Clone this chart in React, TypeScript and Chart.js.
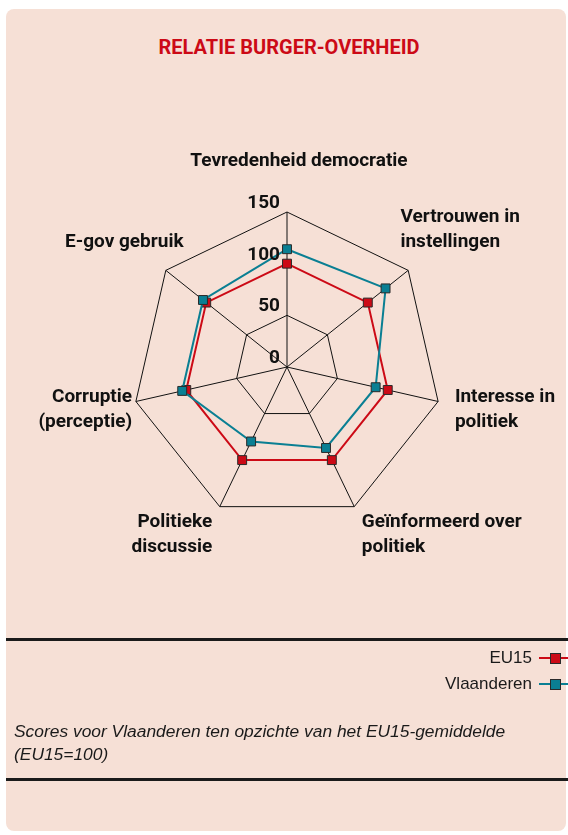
import React, { useEffect, useRef } from 'react';
import { Chart, registerables } from 'chart.js';

Chart.register(...registerables);

// ---------- data ----------
const categories: string[][] = [
  ['Tevredenheid democratie'],
  ['Vertrouwen in', 'instellingen'],
  ['Interesse in', 'politiek'],
  ['Geïnformeerd over', 'politiek'],
  ['Politieke', 'discussie'],
  ['Corruptie', '(perceptie)'],
  ['E-gov gebruik'],
];
const eu15Values = [100, 100, 100, 100, 100, 100, 100];
const vlaanderenValues = [114, 122, 88, 87, 80, 104, 104];
const seriesNames = ['EU15', 'Vlaanderen'];
const seriesColors = ['#CC0A16', '#0A7F93'];
const tickMin = 0;
const tickMax = 150;
const tickStep = 50;
const hiddenRing = 100;
const titleText = 'RELATIE BURGER-OVERHEID';
const noteLines = ['Scores voor Vlaanderen ten opzichte van het EU15-gemiddelde', '(EU15=100)'];

const LABEL_FONT = 'bold 19px Roboto, "Liberation Sans", Arial, sans-serif';

const labelPlugin = {
  id: 'radarLabels',
  afterDraw(chart: any) {
    const scale = chart.scales.r;
    const ctx = chart.ctx;
    ctx.save();
    ctx.font = LABEL_FONT;
    ctx.fillStyle = '#111';
    // tick labels, left of the vertical spoke
    ctx.textAlign = 'right';
    ctx.textBaseline = 'alphabetic';
    scale.ticks.forEach((t: any) => {
      const p = scale.getPointPositionForValue(0, t.value);
      ctx.fillText(String(t.value), scale.xCenter - 7, p.y - 4);
    });
    // point labels
    const R = scale.drawingArea;
    const lh = 25;
    const labels = chart.data.labels as string[][];
    labels.forEach((lines, i) => {
      const p = scale.getPointPosition(i, R + 8);
      const cos = Math.cos(p.angle);
      const sin = Math.sin(p.angle);
      const blockH = lines.length * lh;
      let x = p.x;
      let top: number;
      let align: CanvasTextAlign;
      if (Math.abs(cos) < 0.1) {
        align = 'center';
        top = p.y - 30 - blockH;
        x += 12;
      } else {
        align = cos > 0 ? 'left' : 'right';
        if (sin < -0.5) {
          top = p.y - 11 - blockH;
          x += cos > 0 ? -14 : 24;
        } else if (sin > 0.5) {
          top = p.y - 4;
          x += cos > 0 ? 4 : -4;
        } else {
          top = p.y + 6 - blockH / 2;
          x += cos > 0 ? 9 : 4;
        }
      }
      ctx.textAlign = align;
      ctx.textBaseline = 'middle';
      lines.forEach((l, j) => ctx.fillText(l, x, top + j * lh + lh / 2));
    });
    ctx.restore();
  },
};

function RadarChart() {
  const ref = useRef<HTMLCanvasElement | null>(null);
  useEffect(() => {
    if (!ref.current) return;
    const mk = (name: string, data: number[], color: string, order: number) => ({
      label: name,
      data,
      borderColor: color,
      backgroundColor: color,
      borderWidth: 2,
      fill: false,
      pointStyle: 'rect',
      pointRadius: 6.3,
      pointBackgroundColor: color,
      pointBorderColor: '#2a2a2a',
      pointBorderWidth: 1,
      order,
    });
    const chart = new Chart(ref.current, {
      type: 'radar',
      data: {
        labels: categories,
        datasets: [
          mk(seriesNames[0], eu15Values, seriesColors[0], 2),
          mk(seriesNames[1], vlaanderenValues, seriesColors[1], 1),
        ],
      },
      options: {
        responsive: false,
        animation: false,
        layout: { padding: { left: 132, right: 126, top: 212, bottom: 313 } },
        plugins: {
          legend: { display: false },
          tooltip: { enabled: false },
          title: { display: false },
        },
        elements: { line: { tension: 0 } },
        scales: {
          r: {
            min: tickMin,
            max: tickMax,
            ticks: { stepSize: tickStep, display: false },
            pointLabels: { display: false },
            grid: {
              color: (c: any) => (c.tick && c.tick.value === hiddenRing ? 'rgba(0,0,0,0)' : '#111'),
              lineWidth: 1,
            },
            angleLines: { color: '#111', lineWidth: 1 },
          },
        },
      } as any,
      plugins: [labelPlugin],
    });
    return () => chart.destroy();
  }, []);
  return (
    <canvas
      ref={ref}
      width={568}
      height={835}
      style={{ position: 'absolute', left: 0, top: 0, width: 568, height: 835 }}
    />
  );
}

function LegendRow({ name, color, top }: { name: string; color: string; top: number }) {
  return (
    <div
      style={{
        position: 'absolute',
        top,
        left: 0,
        width: 568,
        height: 22,
        display: 'flex',
        justifyContent: 'flex-end',
        alignItems: 'center',
      }}
    >
      <span style={{ font: '17px "Liberation Sans", Arial, sans-serif', color: '#1a1a1a', marginRight: 7 }}>{name}</span>
      <span style={{ position: 'relative', width: 29, height: 22, display: 'inline-block' }}>
        <span style={{ position: 'absolute', left: 0, right: 0, top: 10, height: 1.5, background: color }} />
        <span
          style={{
            position: 'absolute',
            left: 11,
            top: 6,
            width: 9,
            height: 9,
            background: color,
            border: '1px solid #2a2a2a',
          }}
        />
      </span>
    </div>
  );
}

export default function App() {
  return (
    <div style={{ position: 'absolute', left: 0, top: 0, width: 568, height: 835, overflow: 'hidden' }}>
      <div
        style={{
          position: 'absolute',
          left: 6,
          top: 9,
          width: 560,
          height: 822,
          background: '#F6E0D6',
          borderRadius: 8,
        }}
      />
      <div
        style={{
          position: 'absolute',
          left: 6,
          top: 34,
          width: 566,
          textAlign: 'center',
          font: 'bold 20px Roboto, "Liberation Sans", Arial, sans-serif',
          color: '#CC0A16',
          lineHeight: '26px',
        }}
      >
        {titleText}
      </div>
      <RadarChart />
      <div style={{ position: 'absolute', left: 6, top: 638, width: 562, height: 3, background: '#1a1a1a' }} />
      <LegendRow name={seriesNames[0]} color={seriesColors[0]} top={647} />
      <LegendRow name={seriesNames[1]} color={seriesColors[1]} top={673} />
      <div
        style={{
          position: 'absolute',
          left: 14,
          top: 720,
          font: 'italic 17.4px "Liberation Sans", Arial, sans-serif',
          color: '#1a1a1a',
          lineHeight: '23px',
        }}
      >
        {noteLines[0]}
        <br />
        {noteLines[1]}
      </div>
      <div style={{ position: 'absolute', left: 6, top: 778, width: 562, height: 3, background: '#1a1a1a' }} />
    </div>
  );
}
